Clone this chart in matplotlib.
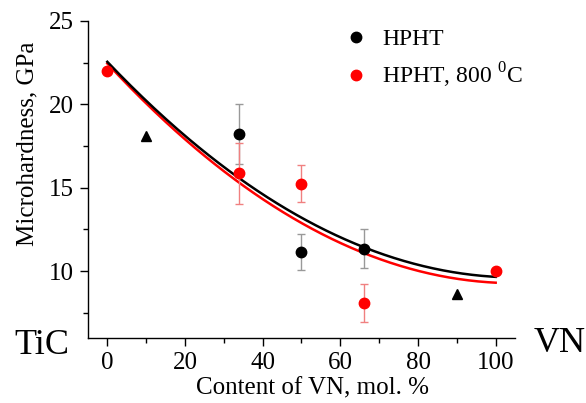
import numpy as np
import matplotlib
matplotlib.use("Agg")
import matplotlib.pyplot as plt

plt.rcParams['font.family'] = ['Liberation Serif', 'DejaVu Serif']
plt.rcParams['mathtext.fontset'] = 'custom'
plt.rcParams['mathtext.rm'] = 'Liberation Serif'

# HPHT (black circles)
hpht_x = [34, 50, 66]
hpht_y = [18.2, 11.15, 11.35]
hpht_err = [1.8, 1.1, 1.15]

# HPHT, 800 C (red circles)
ann_x = [0, 34, 50, 66, 100]
ann_y = [22.0, 15.85, 15.25, 8.1, 10.0]
ann_err = [0.0, 1.8, 1.1, 1.15, 0.0]

# literature points (black triangles)
tri_x = [10, 90]
tri_y = [18.1, 8.6]

# quadratic fit coefficients (c0, c1, c2)
fit_black = [22.55, -0.245, 0.00116]
fit_red = [22.45, -0.2513, 0.001198]

xticks = [0, 20, 40, 60, 80, 100]
yticks = [10, 15, 20, 25]

fig = plt.figure(figsize=(5.86, 4.03), dpi=100)
ax = fig.add_axes([0.150, 0.162, 0.729, 0.786])

xs = np.linspace(0, 100, 200)
ax.plot(xs, np.polynomial.polynomial.polyval(xs, fit_red), color='red', lw=1.8, zorder=2)
ax.plot(xs, np.polynomial.polynomial.polyval(xs, fit_black), color='black', lw=1.8, zorder=3)

ax.errorbar(hpht_x, hpht_y, yerr=hpht_err, fmt='none', ecolor='#999999', elinewidth=1.0,
            capsize=3, capthick=1.0, zorder=4)
ax.errorbar([x for x, e in zip(ann_x, ann_err) if e > 0],
            [y for y, e in zip(ann_y, ann_err) if e > 0],
            yerr=[e for e in ann_err if e > 0], fmt='none', ecolor='#f08080',
            elinewidth=1.0, capsize=3, capthick=1.0, zorder=4)

ax.plot(hpht_x, hpht_y, 'o', color='black', ms=7.5, zorder=5, label='HPHT')
ax.plot(ann_x, ann_y, 'o', color='red', ms=7.5, zorder=5,
        label=r'HPHT, 800 $^{\mathregular{0}}$C')
ax.plot(tri_x, tri_y, '^', color='black', ms=7, zorder=5)

ax.set_xlim(-5, 105)
ax.set_ylim(6, 25)
ax.set_xticks(xticks)
ax.set_yticks(yticks)
ax.set_xticks([10, 30, 50, 70, 90], minor=True)
ax.set_yticks([7.5, 12.5, 17.5, 22.5], minor=True)
ax.tick_params(which='major', direction='out', length=6, width=1.0, labelsize=18, pad=4)
ax.tick_params(which='minor', direction='out', length=3.5, width=1.0)
for s in ['top', 'right']:
    ax.spines[s].set_visible(False)
for s in ['left', 'bottom']:
    ax.spines[s].set_linewidth(1.0)

fig.text(27/586, 1 - 144/403, 'Microhardness, GPa', rotation=90, ha='center', va='center', fontsize=18)
fig.text(312/586, 1 - 388/403, 'Content of VN, mol. %', ha='center', va='center', fontsize=18)
fig.text(42/586, 1 - 345/403, 'TiC', ha='center', va='center', fontsize=26)
fig.text(560/586, 1 - 343/403, 'VN', ha='center', va='center', fontsize=26)

leg = ax.legend(loc='upper left', bbox_to_anchor=(328/586, 1 - 12/403), bbox_transform=fig.transFigure,
                frameon=False, fontsize=17, handlelength=1.0, handletextpad=0.6,
                labelspacing=0.45, markerscale=1.0, borderpad=0.2)

fig.savefig('out.png', dpi=100)
